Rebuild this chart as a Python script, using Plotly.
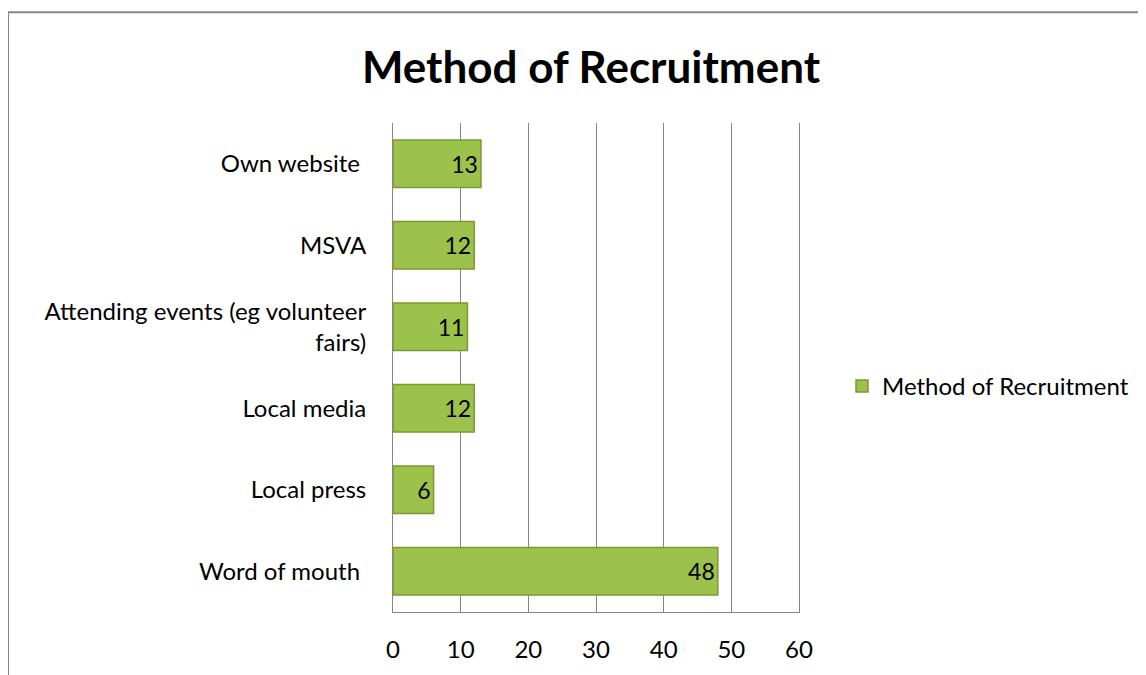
import plotly.graph_objects as go

categories = ["Word of mouth\u00a0", "Local press", "Local media",
              "Attending events (eg volunteer<br>fairs)", "MSVA", "Own website\u00a0"]
values = [48, 6, 12, 11, 12, 13]
series_name = "Method of Recruitment"
title_text = "Method of Recruitment"
x_ticks = [0, 10, 20, 30, 40, 50, 60]

OFF = 8  # default page body margin
W, H = 1146 - OFF, 675 - OFF
L, R, T, B = 393 - OFF, 799 - OFF, 123 - OFF, 617 - OFF

fig = go.Figure()
fig.add_trace(go.Bar(
    y=categories, x=values, orientation="h", name=series_name,
    marker=dict(color="#9CC24B", line=dict(color="#789A2E", width=1.5)),
    text=[str(v) for v in values], textposition="inside", insidetextanchor="end",
    textfont=dict(color="black", size=23, family="Lato"),
    showlegend=True,
))

def px_x(p):
    return (p - OFF - L) / (R - L)

def px_y(p):
    return (B - (p - OFF)) / (B - T)

fig.update_layout(
    width=W, height=H,
    margin=dict(l=L, r=W - R, t=T, b=H - B),
    paper_bgcolor="white", plot_bgcolor="white",
    bargap=0.42,
    font=dict(family="Lato", size=24, color="black"),
    title=dict(text="<b>" + title_text + "</b>", x=px_x(591), xref="paper", xanchor="center",
               y=1 - (68 - OFF) / H, yanchor="middle", font=dict(size=44, family="Lato", color="black")),
    xaxis=dict(range=[0, 60], tickvals=x_ticks, showgrid=True, gridcolor="#868686", gridwidth=1,
               showline=True, linecolor="#868686", linewidth=1, zeroline=False,
               ticks="", ticklabelstandoff=16, tickfont=dict(size=24), fixedrange=True),
    yaxis=dict(showline=True, mirror=True, linecolor="#868686", linewidth=1, ticks="",
               ticklabelstandoff=21, tickfont=dict(size=24), showgrid=False),
    legend=dict(x=px_x(842), y=px_y(389), xanchor="left", yanchor="middle",
                font=dict(size=24), bgcolor="rgba(0,0,0,0)"),
    shapes=[dict(type="rect", xref="paper", yref="paper",
                 x0=px_x(8), x1=px_x(1170), y0=px_y(700), y1=px_y(11),
                 line=dict(color="#868686", width=2), layer="below")],
)

fig.write_html("out.html")
